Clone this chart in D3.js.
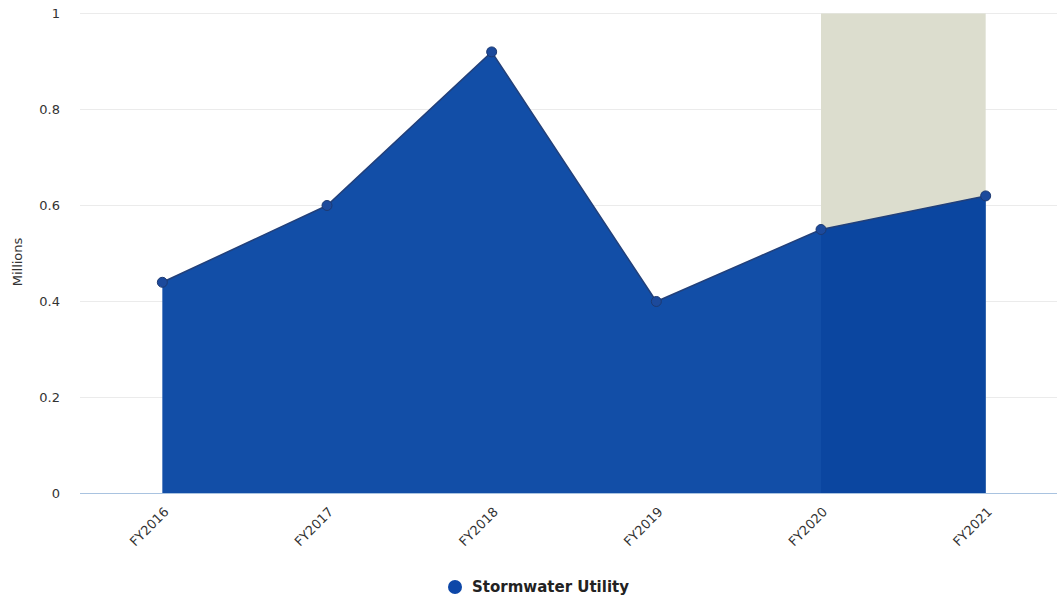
<!DOCTYPE html>
<html>
<head>
<meta charset="utf-8">
<script src="https://cdn.jsdelivr.net/npm/d3@7"></script>
<style>
  html, body { margin: 0; padding: 0; background: #fff; }
  svg { display: block; font-family: "DejaVu Sans", Verdana, sans-serif; }
</style>
</head>
<body>
<svg id="chart" width="1057" height="600"></svg>
<script>
// data
const years = ["FY2016", "FY2017", "FY2018", "FY2019", "FY2020", "FY2021"];
const values = [0.44, 0.60, 0.92, 0.40, 0.55, 0.62];
const yTicks = [0, 0.2, 0.4, 0.6, 0.8, 1];
const bandFrom = "FY2020";
const bandTo = "FY2021";
const seriesName = "Stormwater Utility";

const svg = d3.select("#chart");

const x = d3.scaleBand()
    .domain(years)
    .range([80, 1068]);

const y = d3.scaleLinear()
    .domain([0, 1])
    .range([493.5, 13.5]);

const cx = d => x(d) + x.bandwidth() / 2;

// gridlines
svg.append("g")
    .selectAll("line")
    .data(yTicks.filter(t => t > 0))
    .join("line")
    .attr("x1", 80)
    .attr("x2", 1057)
    .attr("y1", d => y(d))
    .attr("y2", d => y(d))
    .attr("stroke", "#ebebeb")
    .attr("stroke-width", 1);

// plot band behind the area
svg.append("rect")
    .attr("x", cx(bandFrom))
    .attr("width", cx(bandTo) - cx(bandFrom))
    .attr("y", y(1))
    .attr("height", y(0) - y(1))
    .attr("fill", "#dcddce");

// area
const area = d3.area()
    .x((d, i) => cx(years[i]))
    .y0(y(0))
    .y1(d => y(d));

svg.append("clipPath")
    .attr("id", "area-clip")
    .append("path")
    .datum(values)
    .attr("d", area);

svg.append("path")
    .datum(values)
    .attr("d", area)
    .attr("fill", "#124ea7");

// band over the area looks a little darker
svg.append("rect")
    .attr("clip-path", "url(#area-clip)")
    .attr("x", cx(bandFrom))
    .attr("width", cx(bandTo) - cx(bandFrom))
    .attr("y", y(1))
    .attr("height", y(0) - y(1))
    .attr("fill", "#0b46a0");

const line = d3.line()
    .x((d, i) => cx(years[i]))
    .y(d => y(d));

svg.append("path")
    .datum(values)
    .attr("d", line)
    .attr("fill", "none")
    .attr("stroke", "#22407a")
    .attr("stroke-width", 1.5);

// points
svg.append("g")
    .selectAll("circle")
    .data(values)
    .join("circle")
    .attr("cx", (d, i) => cx(years[i]))
    .attr("cy", d => y(d))
    .attr("r", 5)
    .attr("fill", "#1c4a9c")
    .attr("stroke", "#1d3a72")
    .attr("stroke-width", 1);

// x axis line
svg.append("line")
    .attr("x1", 80)
    .attr("x2", 1057)
    .attr("y1", y(0))
    .attr("y2", y(0))
    .attr("stroke", "#a9c3e0")
    .attr("stroke-width", 1);

// y tick labels
svg.append("g")
    .selectAll("text")
    .data(yTicks)
    .join("text")
    .attr("x", 60)
    .attr("y", d => y(d))
    .attr("dy", "0.35em")
    .attr("text-anchor", "end")
    .style("font-size", "13px")
    .style("fill", "#333")
    .text(d => d3.format("~g")(d));

// y axis title
svg.append("text")
    .attr("transform", "translate(22, 262) rotate(-90)")
    .attr("text-anchor", "middle")
    .style("font-size", "13px")
    .style("fill", "#333")
    .text("Millions");

// x tick labels
svg.append("g")
    .selectAll("text")
    .data(years)
    .join("text")
    .attr("transform", d => `translate(${cx(d) + 4}, ${y(0) + 16}) rotate(-45)`)
    .attr("text-anchor", "end")
    .attr("dy", "0.35em")
    .style("font-size", "13px")
    .style("fill", "#333")
    .text(d => d);

// legend
const legend = svg.append("g").attr("transform", "translate(455, 587)");
legend.append("circle")
    .attr("r", 7)
    .attr("fill", "#0d47a8");
legend.append("text")
    .attr("x", 17)
    .attr("dy", "0.35em")
    .style("font-size", "15px")
    .style("font-weight", "bold")
    .style("fill", "#222")
    .text(seriesName);
</script>
</body>
</html>
